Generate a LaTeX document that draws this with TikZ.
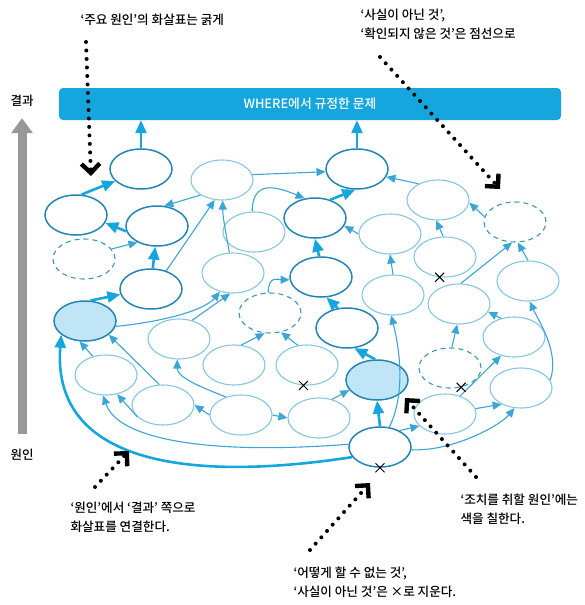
\documentclass[tikz,border=0pt]{standalone}
\usepackage{fontspec}
\setmainfont{Noto Sans CJK KR}[UprightFont=* Medium]
\usepackage{tikz}
\usetikzlibrary{arrows.meta}
\usetikzlibrary{shapes.geometric}
\usetikzlibrary{shapes.misc}
\usepackage{color}
\definecolor{cerulean}{RGB}{22, 166, 222}
\definecolor{deepsea}{RGB}{35, 132, 182}
\definecolor{skywash}{RGB}{135, 198, 226}
\definecolor{tidewater}{RGB}{58, 165, 214}
\definecolor{duskblue}{RGB}{62, 148, 188}
\definecolor{frost}{RGB}{192, 229, 247}
\definecolor{slate}{RGB}{152, 152, 152}

\tikzset{
  cause/.style={ellipse, minimum width=62pt, minimum height=40pt, inner sep=0pt},
  keycause/.style={cause, draw=deepsea, line width=1.5pt},
  minorcause/.style={cause, draw=skywash, line width=1.1pt},
  unsure/.style={cause, draw=duskblue, line width=1.1pt, dash pattern=on 5pt off 4pt},
  actioncause/.style={keycause, fill=frost},
  mainarrow/.style={cerulean, line width=2.6pt, -{Triangle[length=13pt, width=11pt]}},
  subarrow/.style={tidewater, line width=1.1pt, -{Triangle[length=9pt, width=8pt]}},
  pointer/.style={line width=4pt, line cap=round, dash pattern=on 0pt off 8.5pt,
                  -{Straight Barb[angle=90:13pt, line width=4.4pt, sharp]}},
  nogo/.style={cross out, draw, minimum size=8pt, inner sep=0pt, line width=1pt},
  caption/.style={anchor=west, align=left, font=\fontsize{12.6}{19}\selectfont},
  axislabel/.style={font=\fontsize{12.5}{14}\selectfont},
  problembar/.style={fill=cerulean, rounded corners=4pt, minimum width=502pt, minimum height=32pt,
                     text=white, font=\fontsize{12.8}{14}\selectfont}
}

\begin{document}
\begin{tikzpicture}[x=1pt, y=-1pt]
            % Frame to ensure alignment:
            \useasboundingbox (0,0) rectangle (585,605);
            % Problem and axis
            \node[problembar] (problem) at (310,104) {WHERE에서 규정한 문제};
            \node[axislabel]  (effect)  at ( 22,101) {결과};
            \node[axislabel]  (origin)  at ( 22,455) {원인};
            \draw[slate, line width=9pt, shorten <=12pt, shorten >=8pt,
                  -{Triangle[length=15pt, width=21pt]}] (origin.north) -- (effect.south);
            % Main causes
            \node[keycause]    (a1) at (141,169) {};
            \node[keycause]    (a2) at ( 76,215) {};
            \node[keycause]    (a3) at (157,226) {};
            \node[keycause]    (a4) at (151,289) {};
            \node[keycause]    (a5) at (357,169) {};
            \node[keycause]    (a6) at (315,218) {};
            \node[keycause]    (a7) at (321,277) {};
            \node[keycause]    (a8) at (347,328) {};
            \node[keycause]    (r)  at (380,447) {};
            \node[actioncause] (f1) at ( 85,321) {};
            \node[actioncause] (f2) at (377,380) {};
            % Other causes
            \node[minorcause] (b1)  at (222,180) {};
            \node[minorcause] (b2)  at (254,232) {};
            \node[minorcause] (b3)  at (233,273) {};
            \node[minorcause] (b4)  at (390,234) {};
            \node[minorcause] (b5)  at (438,200) {};
            \node[minorcause] (b6)  at (445,257) {};
            \node[minorcause] (b7)  at (393,295) {};
            \node[minorcause] (b8)  at (528,281) {};
            \node[minorcause] (b9)  at (459,304) {};
            \node[minorcause] (b10) at (514,337) {};
            \node[minorcause] (b11) at (179,339) {};
            \node[minorcause] (b12) at (106,375) {};
            \node[minorcause] (b13) at (234,365) {};
            \node[minorcause] (b14) at (307,365) {};
            \node[minorcause] (b15) at (521,388) {};
            \node[minorcause] (b16) at (163,405) {};
            \node[minorcause] (b17) at (241,415) {};
            \node[minorcause] (b18) at (319,418) {};
            \node[minorcause] (b19) at (445,414) {};
            % Unconfirmed causes
            \node[unsure] (d1) at ( 84,259) {};
            \node[unsure] (d2) at (270,313) {};
            \node[unsure] (d3) at (515,222) {};
            \node[unsure] (d4) at (450,368) {};
            % Thick arrows
            \draw[mainarrow] (a1.north) -- (a1.north |- problem.south);
            \draw[mainarrow] (a5.north) -- (a5.north |- problem.south);
            \draw[mainarrow] (a2.75)  -- (a1.205);
            \draw[mainarrow] (a3.190) -- (a2.345);
            \draw[mainarrow] (a4.85)  -- (a3.265);
            \draw[mainarrow] (f1.75)  -- (a4.190);
            \draw[mainarrow] (a6.50)  -- (a5.265);
            \draw[mainarrow] (a7.95)  -- (a6.270);
            \draw[mainarrow] (a8.115) -- (a7.285);
            \draw[mainarrow] (f2.95)  -- (a8.290);
            \draw[mainarrow] (r.north) -- (f2.south);
            \draw[mainarrow] (r.200) .. controls (170,485) and (52,455) .. (f1.210);
            % Thin arrows
            \draw[subarrow] (d1.20)   -- (a3.220);
            \draw[subarrow] (a4.50)   -- (b1.250);
            \draw[subarrow] (b1.215)  -- (a3.70);
            \draw[subarrow] (b1.10)   -- (a5.185);
            \draw[subarrow] (b3.100) .. controls +(-4,-22) and +(0,16) .. (b1.272);
            \draw[subarrow] (b2.95)  .. controls +(0,-32) and +(-28,-12) .. (a6.118);
            \draw[subarrow] (b4.180)  -- (a6.345);
            \draw[subarrow] (d2.95)  .. controls +(0,-18) and +(-10,0) .. (a7.185);
            \draw[subarrow] (b7.north) -- (b4.south);
            \draw[subarrow] (f1.350) .. controls +(50,-5) and +(-15,18) .. (b3.235);
            \draw[subarrow] (b11.55)  -- (b3.262);
            \draw[subarrow] (b12.125) -- (f1.255);
            \draw[subarrow] (b16.100) -- (f1.330);
            \draw[subarrow] (b17.west) -- (b16.east);
            \draw[subarrow] (b17.east) -- (b18.west);
            \draw[subarrow] (b17.130) .. controls +(-25,-10) and +(0,18) .. (b11.265);
            \draw[subarrow] (b16.205) -- (b12.300);
            \draw[subarrow] (b13.70)  -- (d2.255);
            \draw[subarrow] (b14.115) -- (d2.300);
            \draw[subarrow] (b18.55)  -- (f2.200);
            \draw[subarrow] (r.175) .. controls (210,455) and (118,440) .. (b12.262);
            \draw[subarrow] (r.65)  .. controls +(15,-30) and +(10,40) .. (b7.265);
            \draw[subarrow] (r.40)    -- (b19.205);
            \draw[subarrow] (b19.10)  -- (b15.220);
            \draw[subarrow] (b19.50)  -- (b10.235);
            \draw[subarrow] (d4.85)   -- (b9.265);
            \draw[subarrow] (b10.125) -- (b9.345);
            \draw[subarrow] (r.355) .. controls +(40,2) and +(-15,18) .. (b15.252);
            \draw[subarrow] (b15.15) .. controls +(10,-28) and +(8,18) .. (b8.275);
            \draw[subarrow] (b9.85)   -- (d3.262);
            \draw[subarrow] (b8.90)   -- (d3.278);
            \draw[subarrow] (d3.170)  -- (b5.355);
            \draw[subarrow] (b6.95)   -- (b5.265);
            \draw[subarrow] (b5.140)  -- (a5.345);
            % Crossed out
            \node[nogo] (x1) at (b6.255)  {};
            \node[nogo] (x2) at (b14.260) {};
            \node[nogo] (x3) at (d4.300)  {};
            \node[nogo] (x4) at (r.south) {};
            % Notes
            \node[caption] (tmain)   at ( 77, 20) {‘주요 원인’의 화살표는 굵게};
            \node[caption] (tdash)   at (357, 24) {‘사실이 아닌 것’,\\‘확인되지 않은 것’은 점선으로};
            \node[caption] (tflow)   at ( 67,517) {‘원인’에서 ‘결과’ 쪽으로\\화살표를 연결한다.};
            \node[caption] (tfill)   at (457,509) {‘조치를 취할 원인’에는\\색을 칠한다.};
            \node[caption] (tcross)  at (290,582) {‘어떻게 할 수 없는 것’,\\‘사실이 아닌 것’은 ×로 지운다.};
            \coordinate (pmain)  at ( 86, 42);  \coordinate (qmain)  at ( 91,176);
            \coordinate (pdash)  at (380, 57);  \coordinate (qdash)  at (500,189);
            \coordinate (pflow)  at ( 95,487);  \coordinate (qflow)  at (129,451);
            \coordinate (pfill)  at (476,477);  \coordinate (qfill)  at (405,398);
            \coordinate (pcross) at (310,550);  \coordinate (qcross) at (370,483);
            \draw[pointer] (pmain)  -- (qmain);
            \draw[pointer] (pdash)  -- (qdash);
            \draw[pointer] (pflow)  -- (qflow);
            \draw[pointer] (pfill)  -- (qfill);
            \draw[pointer] (pcross) -- (qcross);
\end{tikzpicture}
\end{document}
